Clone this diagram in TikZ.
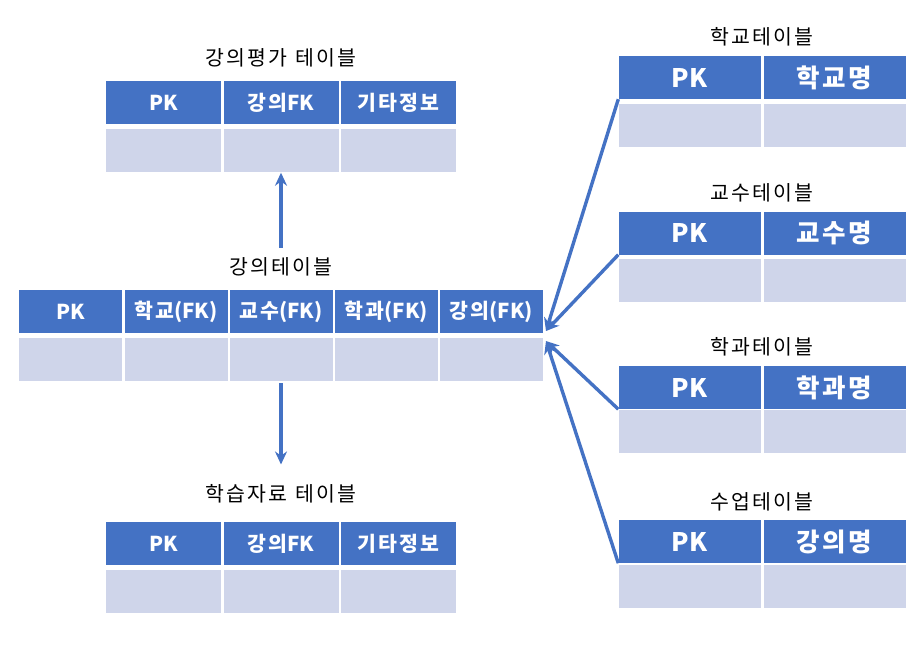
\documentclass[tikz,border=0pt]{standalone}
\usepackage{fontspec}
\newfontfamily\kr{Noto Sans CJK KR}
\usetikzlibrary{arrows.meta,calc}
% extra spacing between consecutive Hangul syllables
\XeTeXinterchartokenstate=1
\newXeTeXintercharclass\hangulclass
\count255="AC00
\loop
  \XeTeXcharclass\count255=\hangulclass
  \ifnum\count255<"D7A3 \advance\count255 by 1
\repeat
\XeTeXinterchartoks\hangulclass\hangulclass={\kern0.1em}
\newcommand\wsp{\hspace{0.4em}}
\definecolor{hblue}{HTML}{4472C4}
\definecolor{bblue}{HTML}{CFD5EA}
\tikzset{
  cellbase/.style={inner sep=0pt, minimum height=43pt},
  hdr/.style={cellbase, fill=hblue, text=white, font=\kr\bfseries\fontsize{20.5}{23}\selectfont},
  hdrbig/.style={hdr, font=\kr\bfseries\fontsize{25.5}{28}\selectfont},
  bdy/.style={cellbase, fill=bblue},
  ttl/.style={inner sep=0pt, font=\kr\fontsize{20.5}{23}\selectfont},
  arr/.style={draw=hblue, line width=3.4pt, -{Stealth[length=13pt,width=12pt]}}
}
\begin{document}
\begin{tikzpicture}[x=1pt,y=-1pt]
\useasboundingbox (0,0) rectangle (924,664);
% ---------- 강의평가 테이블 ----------
\node[ttl] (t1) at (281,58) {강의평가\wsp 테이블};
\node[hdr, minimum width=115pt] (a1) at (163.5,102.5) {PK};
\node[hdr, minimum width=115pt] (a2) at (281,102.5) {강의FK};
\node[hdr, minimum width=115pt] (a3) at (398.5,102.5) {기타정보};
\node[bdy, minimum width=115pt] (ab1) at (163.5,150) {};
\node[bdy, minimum width=115pt] (ab2) at (281,150) {};
\node[bdy, minimum width=115pt] (ab3) at (398.5,150) {};
% ---------- 강의테이블 ----------
\node[ttl] (t2) at (281,267) {강의테이블};
\node[hdr, minimum width=103pt] (m1) at (70.5,311.5) {PK};
\node[hdr, minimum width=103pt] (m2) at (176,311.5) {학교(FK)};
\node[hdr, minimum width=103pt] (m3) at (281,311.5) {교수(FK)};
\node[hdr, minimum width=103pt] (m4) at (386.5,311.5) {학과(FK)};
\node[hdr, minimum width=103pt] (m5) at (491.5,311.5) {강의(FK)};
\node[bdy, minimum width=103pt] (mb1) at (70.5,359.5) {};
\node[bdy, minimum width=103pt] (mb2) at (176,359.5) {};
\node[bdy, minimum width=103pt] (mb3) at (281,359.5) {};
\node[bdy, minimum width=103pt] (mb4) at (386.5,359.5) {};
\node[bdy, minimum width=103pt] (mb5) at (491.5,359.5) {};
% ---------- 학습자료 테이블 ----------
\node[ttl] (t3) at (281,494) {학습자료\wsp 테이블};
\node[hdr, minimum width=115pt] (c1) at (163.5,543.5) {PK};
\node[hdr, minimum width=115pt] (c2) at (281,543.5) {강의FK};
\node[hdr, minimum width=115pt] (c3) at (398.5,543.5) {기타정보};
\node[bdy, minimum width=115pt] (cb1) at (163.5,591) {};
\node[bdy, minimum width=115pt] (cb2) at (281,591) {};
\node[bdy, minimum width=115pt] (cb3) at (398.5,591) {};
% ---------- 학교테이블 ----------
\node[ttl] (t4) at (762,37) {학교테이블};
\node[hdrbig, minimum width=142pt] (s1) at (689.5,77.5) {PK};
\node[hdrbig, minimum width=142pt] (s2) at (834.5,77.5) {학교명};
\node[bdy, minimum width=142pt] (sb1) at (689.5,125.5) {};
\node[bdy, minimum width=142pt] (sb2) at (834.5,125.5) {};
% ---------- 교수테이블 ----------
\node[ttl] (t5) at (762,193) {교수테이블};
\node[hdrbig, minimum width=142pt] (p1) at (689.5,233) {PK};
\node[hdrbig, minimum width=142pt] (p2) at (834.5,233) {교수명};
\node[bdy, minimum width=142pt] (pb1) at (689.5,280.5) {};
\node[bdy, minimum width=142pt] (pb2) at (834.5,280.5) {};
% ---------- 학과테이블 ----------
\node[ttl] (t6) at (762,347) {학과테이블};
\node[hdrbig, minimum width=142pt] (d1) at (689.5,387.5) {PK};
\node[hdrbig, minimum width=142pt] (d2) at (834.5,387.5) {학과명};
\node[bdy, minimum width=142pt] (db1) at (689.5,431.5) {};
\node[bdy, minimum width=142pt] (db2) at (834.5,431.5) {};
% ---------- 수업테이블 ----------
\node[ttl] (t7) at (762,502) {수업테이블};
\node[hdrbig, minimum width=142pt] (u1) at (689.5,541.5) {PK};
\node[hdrbig, minimum width=142pt] (u2) at (834.5,541.5) {강의명};
\node[bdy, minimum width=142pt] (ub1) at (689.5,586) {};
\node[bdy, minimum width=142pt] (ub2) at (834.5,586) {};
% ---------- connectors ----------
\coordinate (j1) at (546,331);
\coordinate (j2) at (546,341);
\draw[arr, shorten <=10pt, shorten >=1pt] (t2.north) -- (ab2.south);
\draw[arr, shorten >=20pt, shorten <=2pt] (mb3.south) -- (t3.north);
\draw[arr] (s1.south west) -- (j1);
\draw[arr] (p1.south west) -- (j1);
\draw[arr] (d1.south west) -- (j2);
\draw[arr] (u1.south west) -- (j2);
\end{tikzpicture}
\end{document}
